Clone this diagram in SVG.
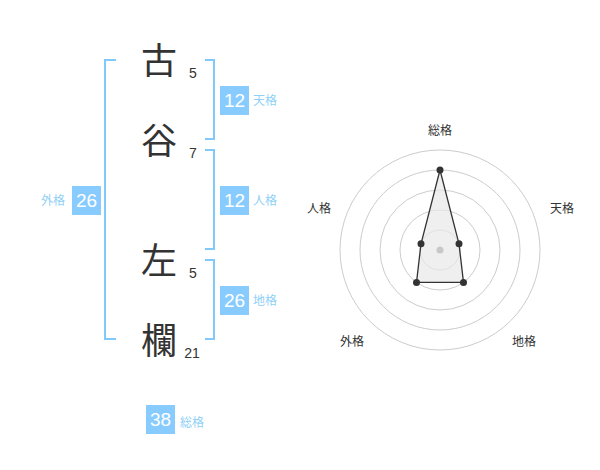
<svg xmlns="http://www.w3.org/2000/svg" width="600" height="470" viewBox="0 0 600 470">
<style>
.kanji{font-family:"Noto Sans CJK JP","Noto Sans CJK SC",sans-serif;font-size:36px;fill:#333;text-anchor:middle}
.stroke{font-family:"Liberation Sans",Arial,sans-serif;font-size:14px;fill:#333;text-anchor:middle}
.br{fill:none;stroke:#80cafa;stroke-width:2}
.box{fill:#88ccff}
.bnum{font-family:"Liberation Sans",Arial,sans-serif;font-size:19px;fill:#fff;text-anchor:middle}
.blab{font-family:"Noto Sans CJK JP",sans-serif;font-size:12px;fill:#8fd0f8}
.ring{fill:none;stroke:#cccccc;stroke-width:1}
.rlab{font-family:"Noto Sans CJK JP",sans-serif;font-size:12px;fill:#333;text-anchor:middle}
.pt{fill:#333}
</style>
<rect width="600" height="470" fill="#fff"/>
<g id="chars">
<text class="kanji" x="159" y="74">古</text>
<text class="kanji" x="159" y="154">谷</text>
<text class="kanji" x="159" y="274">左</text>
<text class="kanji" x="159" y="354">欄</text>
<text class="stroke" x="193" y="78">5</text>
<text class="stroke" x="193" y="158">7</text>
<text class="stroke" x="193" y="278">5</text>
<text class="stroke" x="192" y="358">21</text>
</g>
<g id="connectors">
<path class="br" d="M116,60 H105 V339 H116"/>
<path class="br" d="M205,60 H214 V139 H205"/>
<path class="br" d="M205,150 H214 V249 H205"/>
<path class="br" d="M205,260 H214 V339 H205"/>
</g>
<g id="tenkaku">
<rect class="box" x="220" y="86" width="29" height="29"/>
<text class="bnum" x="234.5" y="107">12</text>
<text class="blab" x="253" y="105">天格</text>
</g>
<g id="jinkaku">
<rect class="box" x="220" y="186" width="29" height="29"/>
<text class="bnum" x="234.5" y="207">12</text>
<text class="blab" x="253" y="205">人格</text>
</g>
<g id="chikaku">
<rect class="box" x="220" y="286" width="29" height="29"/>
<text class="bnum" x="234.5" y="307">26</text>
<text class="blab" x="253" y="305">地格</text>
</g>
<g id="gaikaku">
<rect class="box" x="72" y="186" width="29" height="29"/>
<text class="bnum" x="86.5" y="207">26</text>
<text class="blab" x="41" y="205">外格</text>
</g>
<g id="soukaku">
<rect class="box" x="146" y="405" width="29" height="29"/>
<text class="bnum" x="160.5" y="426">38</text>
<text class="blab" x="180" y="427">総格</text>
</g>
<g id="radar">
<circle class="ring" cx="440" cy="250" r="20"/>
<circle class="ring" cx="440" cy="250" r="40"/>
<circle class="ring" cx="440" cy="250" r="60"/>
<circle class="ring" cx="440" cy="250" r="80"/>
<circle class="ring" cx="440" cy="250" r="100"/>
<polygon points="440,170 459,243.8 463.5,282.4 416.5,282.4 421,243.8" fill="#e8e8e8" fill-opacity="0.7" stroke="#333" stroke-width="1.3"/>
<circle cx="440" cy="250" r="3.5" fill="#c8c8c8"/>
<circle class="pt" cx="440" cy="170" r="3.5"/>
<circle class="pt" cx="459" cy="243.8" r="3.5"/>
<circle class="pt" cx="463.5" cy="282.4" r="3.5"/>
<circle class="pt" cx="416.5" cy="282.4" r="3.5"/>
<circle class="pt" cx="421" cy="243.8" r="3.5"/>
<text class="rlab" x="440" y="135">総格</text>
<text class="rlab" x="562" y="213">天格</text>
<text class="rlab" x="524" y="346">地格</text>
<text class="rlab" x="352" y="346">外格</text>
<text class="rlab" x="319" y="213">人格</text>
</g>
</svg>
